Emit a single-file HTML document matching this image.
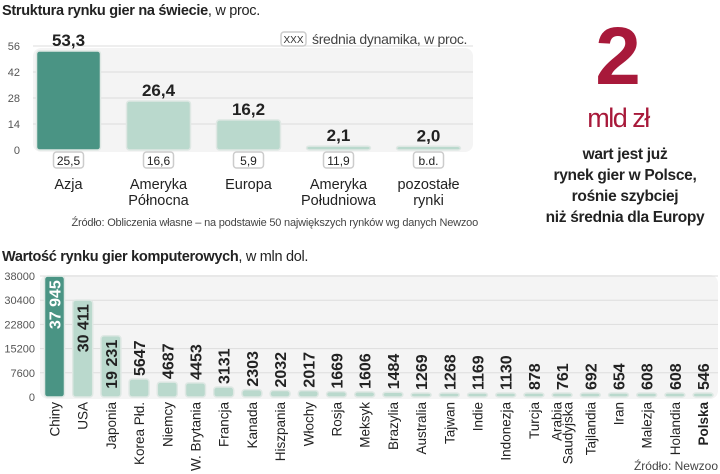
<!DOCTYPE html>
<html><head><meta charset="utf-8"><style>
body{margin:0;background:#fff;width:720px;height:474px;overflow:hidden}
svg{display:block;font-family:"Liberation Sans Narrow","Liberation Sans",sans-serif}
</style></head><body>
<svg id="c" width="720" height="474" viewBox="0 0 720 474" xmlns="http://www.w3.org/2000/svg">
<text x="2" y="15" font-size="14.5" fill="#222" letter-spacing="-0.3"><tspan font-weight="bold">Struktura rynku gier na świecie</tspan>, w proc.</text>
<rect x="33" y="48" width="440" height="104" rx="8" fill="#f4f4f4"/>
<g id="topGrid"></g>
<rect x="281" y="32" width="25" height="14" rx="3" fill="#fff" stroke="#ccc" stroke-width="1.5"/>
<text x="293.5" y="43" font-size="10" text-anchor="middle" fill="#333">XXX</text>
<text x="312" y="44" font-size="14" fill="#444" letter-spacing="-0.3">średnia dynamika, w proc.</text>
<g id="topBars"></g>
<text x="478" y="226" font-size="11" text-anchor="end" fill="#444" letter-spacing="-0.2">Źródło: Obliczenia własne – na podstawie 50 największych rynków wg danych Newzoo</text>

<text x="618" y="84" font-size="82" font-weight="bold" text-anchor="middle" fill="#a8193a" font-family="Liberation Sans,sans-serif">2</text>
<text x="618" y="127" font-size="27" text-anchor="middle" fill="#a8193a" letter-spacing="-1.5">mld zł</text>
<g font-size="15.5" fill="#222" text-anchor="middle" font-weight="bold" letter-spacing="-0.3">
<text x="625" y="159">wart jest już</text>
<text x="625" y="180">rynek gier w Polsce,</text>
<text x="625" y="201">rośnie szybciej</text>
<text x="625" y="222">niż średnia dla Europy</text>
</g>

<text x="2" y="261" font-size="14.5" fill="#222" letter-spacing="-0.3"><tspan font-weight="bold">Wartość rynku gier komputerowych</tspan>, w mln dol.</text>
<rect x="40" y="275" width="678" height="124" rx="8" fill="#f4f4f4"/>
<g id="botGrid"></g>
<g id="botBars"></g>
<text x="718" y="470" font-size="12" text-anchor="end" fill="#444">Źródło: Newzoo</text>
</svg>
<script>
const regions = ["Azja", "Ameryka|Północna", "Europa", "Ameryka|Południowa", "pozostałe|rynki"];
const shares = [53.3, 26.4, 16.2, 2.1, 2.0];
const shareLabels = ["53,3", "26,4", "16,2", "2,1", "2,0"];
const dynamics = ["25,5", "16,6", "5,9", "11,9", "b.d."];
const topTicks = [0, 14, 28, 42, 56];

const countries = ["Chiny","USA","Japonia","Korea Płd.","Niemcy","W. Brytania","Francja","Kanada","Hiszpania","Włochy","Rosja","Meksyk","Brazylia","Australia","Tajwan","Indie","Indonezja","Turcja","Arabia|Saudyjska","Tajlandia","Iran","Malezja","Holandia","Polska"];
const revenue = [37945,30411,19231,5647,4687,4453,3131,2303,2032,2017,1669,1606,1484,1269,1268,1169,1130,878,761,692,654,608,608,546];
const revenueLabels = ["37 945","30 411","19 231","5647","4687","4453","3131","2303","2032","2017","1669","1606","1484","1269","1268","1169","1130","878","761","692","654","608","608","546"];
const botTicks = [0, 7600, 15200, 22800, 30400, 38000];

const NS = "http://www.w3.org/2000/svg";
function mk(tag, attrs, parent, txt) {
  const e = document.createElementNS(NS, tag);
  for (const k in attrs) e.setAttribute(k, attrs[k]);
  if (txt !== undefined) e.textContent = txt;
  parent.appendChild(e);
  return e;
}
const yTop = v => 150 - v / 56 * 104;
const xTop = i => 68.5 + i * 90;
const yBot = v => 397 - v / 38000 * 121;
const xBot = i => 54.5 + i * 28.2;

const tg = document.getElementById("topGrid");
topTicks.forEach(t => {
  const y = yTop(t);
  if (t > 0) {
    const l = mk("line", {x1: 33, x2: 473, y1: y, y2: y, stroke: "#ddd", "stroke-width": 1}, tg);
    
    
  }
  const tx = mk("text", {x: 20, y: y + 4, "font-size": 11, "text-anchor": "end", fill: "#555"}, tg, String(t));
  
  
});

const tb = document.getElementById("topBars");
regions.forEach((r, i) => {
  const cx = xTop(i), y = yTop(shares[i]);
  const h = Math.max(150 - y, 3);
  const b = mk("rect", {x: cx - 32, y: 150 - h, width: 64, height: h, rx: 3, fill: i === 0 ? "#4a9484" : "#bad9cd", stroke: "#dfe8e4", "stroke-width": 1.5}, tb);
  
  
  const v = mk("text", {x: cx, y: 150 - h - 5, "font-size": 17, "font-weight": "bold", "text-anchor": "middle", fill: "#222"}, tb, shareLabels[i]);
  
  
  const box = mk("rect", {x: cx - 15, y: 152, width: 30, height: 16, rx: 3, fill: "#fff", stroke: "#ccc", "stroke-width": 1.5}, tb);
  
  
  const d = mk("text", {x: cx, y: 165, "font-size": 12, "text-anchor": "middle", fill: "#222"}, tb, dynamics[i]);
  
  
  r.split("|").forEach((line, j) => {
    const t = mk("text", {x: cx, y: 189 + j * 16, "font-size": 14.5, "text-anchor": "middle", fill: "#222"}, tb, line);
    
    
  });
});

const bg = document.getElementById("botGrid");
botTicks.forEach(t => {
  const y = yBot(t);
  if (t > 0) {
    const l = mk("line", {x1: 40, x2: 718, y1: y, y2: y, stroke: "#ddd", "stroke-width": 1}, bg);
    
    
  }
  const tx = mk("text", {x: 35, y: y + 4, "font-size": 11, "text-anchor": "end", fill: "#555"}, bg, String(t));
  
  
});

const bb = document.getElementById("botBars");
countries.forEach((c, i) => {
  const cx = xBot(i), y = yBot(revenue[i]);
  const h = Math.max(397 - y, 4);
  const b = mk("rect", {x: cx - 10, y: 397 - h, width: 20, height: h, rx: 3, fill: i === 0 ? "#4a9484" : "#bad9cd", stroke: "#dfe8e4", "stroke-width": 1.5}, bb);
  
  
  const inside = revenue[i] > 15000;
  const ty = inside ? 397 - h + 4 : 397 - h - 3;
  const v = mk("text", {x: cx + 6, y: ty, "font-size": 16, "font-weight": "bold", "text-anchor": inside ? "end" : "start", fill: i === 0 ? "#fff" : "#222", transform: `rotate(-90 ${cx + 6} ${ty})`}, bb, revenueLabels[i]);
  
  
  const lines = c.split("|");
  lines.forEach((line, j) => {
    const lx = cx + 5 + (j - (lines.length - 1) / 2) * 11;
    const t = mk("text", {x: lx, y: 402, "font-size": 13.5, "text-anchor": "end", fill: "#222", "font-weight": c === "Polska" ? "bold" : "normal", transform: `rotate(-90 ${lx} 402)`}, bb, line);
    
    
  });
});
</script>
</body></html>
